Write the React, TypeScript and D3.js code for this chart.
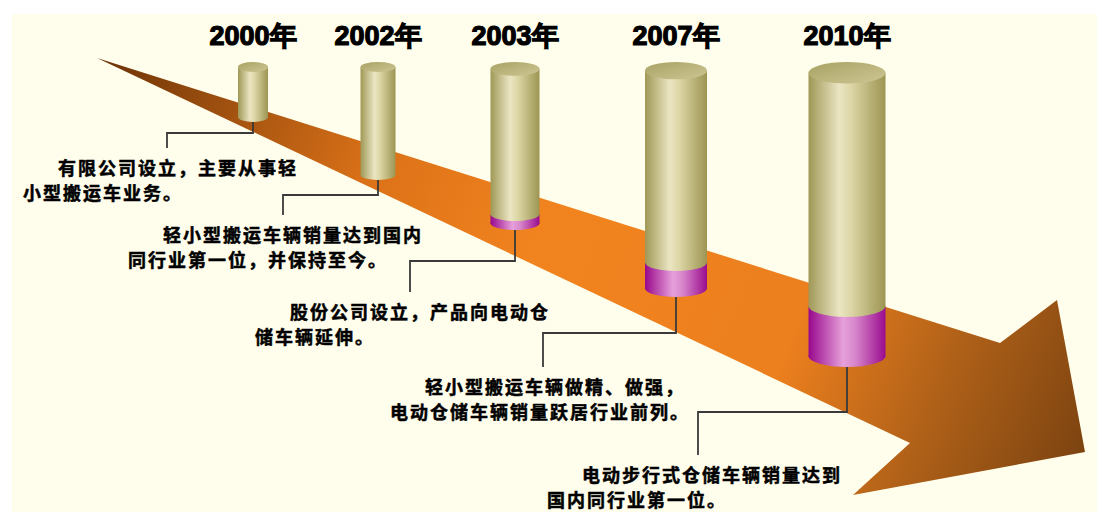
import React from 'react';
import * as d3 from 'd3';

// ---- data ----
const years = ['2000年', '2002年', '2003年', '2007年', '2010年'];
const heightValues = [60, 118, 168, 235, 305];   // total cylinder height
const purpleValues = [0, 0, 9, 26, 50];          // magenta segment height
const diameterValues = [30, 35, 49, 62, 77];
const descLine1 = [
  '有限公司设立，主要从事轻',
  '轻小型搬运车辆销量达到国内',
  '股份公司设立，产品向电动仓',
  '轻小型搬运车辆做精、做强，',
  '电动步行式仓储车辆销量达到',
];
const descLine2 = [
  '小型搬运车业务。',
  '同行业第一位，并保持至今。',
  '储车辆延伸。',
  '电动仓储车辆销量跃居行业前列。',
  '国内同行业第一位。',
];

// ---- layout ----
const W = 1108, H = 523;
const centerPositions = [253, 378, 515, 676, 847];
const elbowY = [133, 195, 261, 333, 412];
const elbowX = [167, 283, 410, 543, 698];
const leaderEnd = [148, 215, 292, 367, 455];
const textX = [23, 128, 255, 390, 547];
const topY = 62;

export default function App() {
  const x = d3.scaleOrdinal<string, number>().domain(years).range(centerPositions);
  const h = d3.scaleLinear().domain([0, 305]).range([0, 305]);
  const w = d3.scaleLinear().domain([0, 77]).range([0, 77]);

  const arrowPts: [number, number][] = [
    [97, 58], [1000, 343], [1057, 300], [1085, 452], [853, 495], [910, 443],
  ];
  const arrowPath = d3.line()(arrowPts) + 'Z';

  const cjk = '"Noto Sans CJK SC", "Noto Sans", sans-serif';

  return (
    <svg width={W} height={H} style={{ position: 'absolute', left: 0, top: 0 }}>
      <defs>
        <linearGradient id="arrowG" gradientUnits="userSpaceOnUse" x1={97} y1={58} x2={1085} y2={470}>
          <stop offset="0" stopColor="#6a3206" />
          <stop offset="0.1" stopColor="#944a0e" />
          <stop offset="0.28" stopColor="#dc7218" />
          <stop offset="0.45" stopColor="#f2841f" />
          <stop offset="0.7" stopColor="#ec7f1e" />
          <stop offset="0.85" stopColor="#ae6018" />
          <stop offset="1" stopColor="#7a4210" />
        </linearGradient>
        <linearGradient id="khakiG" x1="0" x2="1" y1="0" y2="0">
          <stop offset="0" stopColor="#9f9856" />
          <stop offset="0.4" stopColor="#ebe5c3" />
          <stop offset="0.55" stopColor="#ddd6a6" />
          <stop offset="1" stopColor="#9c9552" />
        </linearGradient>
        <linearGradient id="capG" x1="0" x2="1" y1="0" y2="1">
          <stop offset="0" stopColor="#a9a264" />
          <stop offset="1" stopColor="#cdc694" />
        </linearGradient>
        <linearGradient id="purpleG" x1="0" x2="1" y1="0" y2="0">
          <stop offset="0" stopColor="#98088c" />
          <stop offset="0.45" stopColor="#e6a0da" />
          <stop offset="0.6" stopColor="#d888cc" />
          <stop offset="1" stopColor="#9a0c8e" />
        </linearGradient>
      </defs>
      <rect x={12} y={14} width={1085} height={498} fill="#fffdeb" />
      <path d={arrowPath} fill="url(#arrowG)" />

      {years.map((yr, i) => {
        const cx = x(yr);
        const d = w(diameterValues[i]);
        const rx = d / 2;
        const ry = Math.max(5, d * 0.14);
        const bottom = topY + h(heightValues[i]);
        const topC = topY + ry;
        const botC = bottom - ry;
        const splitC = botC - h(purpleValues[i]);
        return (
          <g key={yr}>
            {purpleValues[i] > 0 && (
              <g>
                <rect x={cx - rx} y={splitC} width={d} height={botC - splitC} fill="url(#purpleG)" />
                <ellipse cx={cx} cy={botC} rx={rx} ry={ry} fill="url(#purpleG)" />
              </g>
            )}
            <rect x={cx - rx} y={topC} width={d} height={splitC - topC} fill="url(#khakiG)" />
            <ellipse cx={cx} cy={splitC} rx={rx} ry={ry} fill="url(#khakiG)" />
            <ellipse cx={cx} cy={topC} rx={rx} ry={ry} fill="url(#capG)" />
            <path
              d={`M${cx},${bottom}V${elbowY[i]}H${elbowX[i]}V${leaderEnd[i]}`}
              fill="none" stroke="#3a3a3a" strokeWidth={1.8}
            />
            <text x={cx} y={45} textAnchor="middle"
              fontFamily='"Liberation Sans", Arial, sans-serif' fontWeight={900}
              fontSize={27} letterSpacing={0} stroke="#000" strokeWidth={1.2} fill="#000">
              {yr}
            </text>
            <text x={textX[i] + 35} y={leaderEnd[i] + 19} dominantBaseline="central"
              fontFamily={cjk} fontWeight={700} fontSize={18} letterSpacing={2}
              stroke="#000" strokeWidth={0.5} fill="#000">
              {descLine1[i]}
            </text>
            <text x={textX[i]} y={leaderEnd[i] + 44} dominantBaseline="central"
              fontFamily={cjk} fontWeight={700} fontSize={18} letterSpacing={2}
              stroke="#000" strokeWidth={0.5} fill="#000">
              {descLine2[i]}
            </text>
          </g>
        );
      })}
    </svg>
  );
}
